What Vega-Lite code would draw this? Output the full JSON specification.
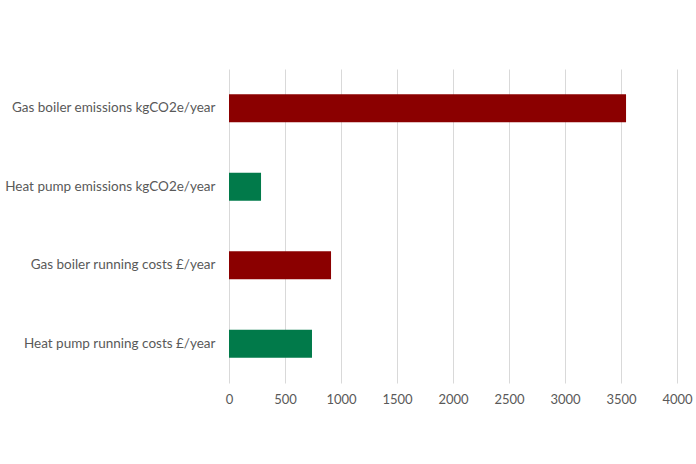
{
  "$schema": "https://vega.github.io/schema/vega-lite/v6.json",
  "autosize": "none",
  "padding": {"left": 229, "top": 69, "right": 19, "bottom": 81},
  "width": 448,
  "height": 314,
  "background": "white",
  "data": {
    "values": [
      {"label": "Gas boiler emissions kgCO2e/year", "value": 3545, "type": "gas"},
      {"label": "Heat pump emissions kgCO2e/year", "value": 286, "type": "heat"},
      {"label": "Gas boiler running costs £/year", "value": 911, "type": "gas"},
      {"label": "Heat pump running costs £/year", "value": 741, "type": "heat"}
    ]
  },
  "mark": {"type": "bar"},
  "encoding": {
    "y": {
      "field": "label",
      "type": "nominal",
      "sort": null,
      "scale": {"paddingInner": 0.643, "paddingOuter": 0.3215},
      "axis": {
        "title": null,
        "domain": false,
        "ticks": false,
        "grid": false,
        "labelPadding": 14,
        "labelFont": "Lato",
        "labelFontSize": 13.5,
        "labelColor": "#595959",
        "labelLimit": 300
      }
    },
    "x": {
      "field": "value",
      "type": "quantitative",
      "scale": {"domain": [0, 4000], "nice": false},
      "axis": {
        "title": null,
        "values": [0, 500, 1000, 1500, 2000, 2500, 3000, 3500, 4000],
        "format": "d",
        "domain": false,
        "ticks": false,
        "grid": true,
        "gridColor": "#d9d9d9",
        "gridWidth": 1,
        "labelPadding": 10,
        "labelFont": "Lato",
        "labelFontSize": 13,
        "labelColor": "#595959",
        "labelFlush": false
      }
    },
    "color": {
      "field": "type",
      "type": "nominal",
      "scale": {"domain": ["gas", "heat"], "range": ["#8b0000", "#017a4a"]},
      "legend": null
    }
  },
  "config": {"view": {"stroke": null}}
}
